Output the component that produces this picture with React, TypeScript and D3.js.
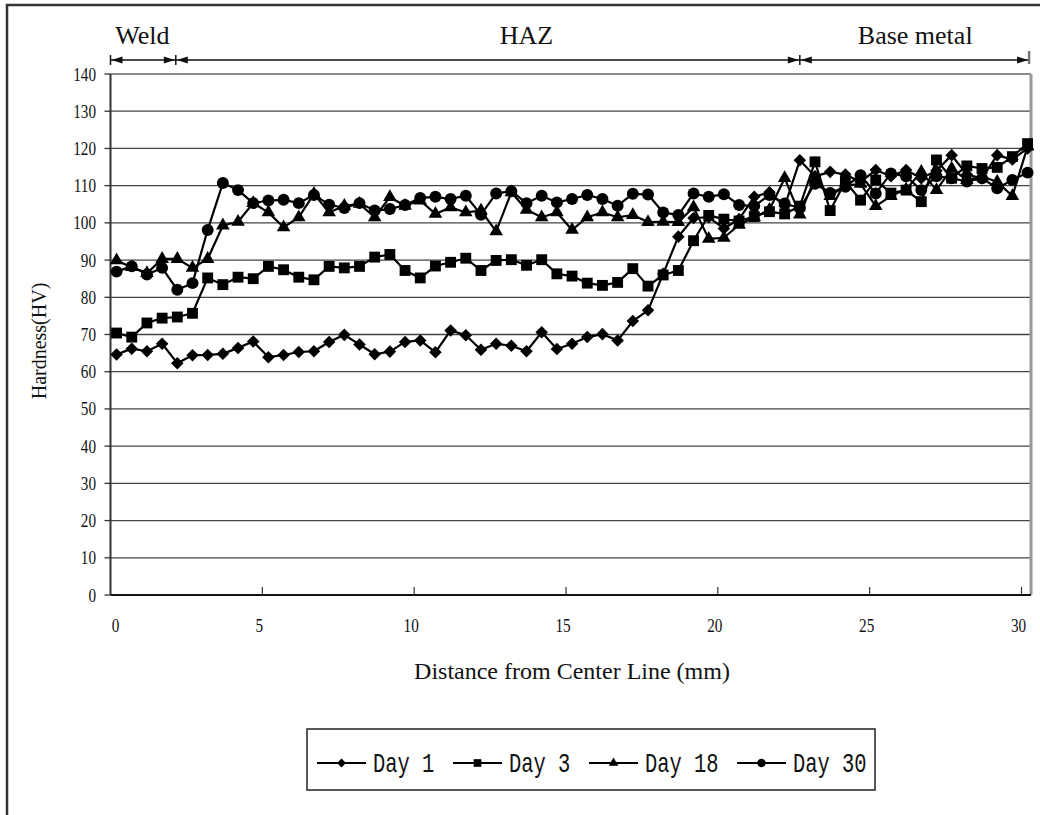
import React from 'react';
import * as d3 from 'd3';

// sample positions (mm) and hardness readings (HV)
const distances = [
  0.2, 0.7, 1.2, 1.7, 2.2, 2.7, 3.2, 3.7, 4.2, 4.7,
  5.2, 5.7, 6.2, 6.7, 7.2, 7.7, 8.2, 8.7, 9.2, 9.7,
  10.2, 10.7, 11.2, 11.7, 12.2, 12.7, 13.2, 13.7, 14.2, 14.7,
  15.2, 15.7, 16.2, 16.7, 17.2, 17.7, 18.2, 18.7, 19.2, 19.7,
  20.2, 20.7, 21.2, 21.7, 22.2, 22.7, 23.2, 23.7, 24.2, 24.7,
  25.2, 25.7, 26.2, 26.7, 27.2, 27.7, 28.2, 28.7, 29.2, 29.7,
  30.2,
];

const day1 = [
  64.6, 66.2, 65.5, 67.5, 62.3, 64.4, 64.5, 64.8, 66.4, 68.1,
  63.9, 64.5, 65.3, 65.5, 68.0, 69.9, 67.3, 64.7, 65.4, 68.0,
  68.4, 65.2, 71.1, 69.8, 65.9, 67.5, 67.0, 65.5, 70.6, 66.1,
  67.5, 69.3, 70.1, 68.4, 73.6, 76.5, 86.3, 96.3, 101.3, 101.5,
  98.5, 101.0, 107.0, 108.2, 104.5, 116.8, 112.5, 113.7, 113.0, 111.0,
  114.2, 112.5, 114.2, 112.0, 114.0, 118.2, 113.0, 112.0, 118.2, 117.0,
  120.0,
];

const day3 = [
  70.4, 69.3, 73.1, 74.4, 74.7, 75.7, 85.2, 83.4, 85.4, 85.0,
  88.3, 87.4, 85.4, 84.7, 88.3, 87.9, 88.3, 90.8, 91.5, 87.2,
  85.2, 88.4, 89.4, 90.5, 87.2, 89.9, 90.1, 88.6, 90.1, 86.3,
  85.7, 83.8, 83.2, 84.0, 87.7, 83.0, 86.0, 87.2, 95.2, 102.0,
  101.0, 100.5, 101.7, 103.0, 102.4, 104.5, 116.4, 103.3, 111.1, 106.1,
  111.5, 108.0, 108.8, 105.7, 116.9, 112.0, 115.3, 114.6, 114.9, 117.8,
  121.3,
];

const day18 = [
  89.9, 88.1, 86.5, 90.3, 90.3, 87.9, 90.3, 99.3, 100.3, 105.3,
  102.8, 98.8, 101.5, 107.8, 102.8, 104.6, 105.1, 101.5, 106.9, 104.6,
  106.0, 102.4, 104.2, 102.8, 103.3, 97.7, 108.2, 103.5, 101.5, 102.8,
  98.1, 101.5, 102.8, 101.5, 102.1, 100.2, 100.3, 100.2, 104.2, 95.7,
  96.0, 99.5, 101.5, 103.5, 112.0, 102.2, 112.0, 107.2, 110.0, 110.5,
  104.5, 107.2, 109.0, 113.7, 108.8, 114.6, 111.5, 112.5, 111.0, 107.2,
  120.5,
];

const day30 = [
  86.9, 88.3, 86.1, 87.9, 82.0, 83.8, 98.1, 110.7, 108.8, 105.3,
  106.0, 106.2, 105.3, 107.5, 104.9, 104.0, 105.3, 103.3, 103.7, 104.8,
  106.7, 107.0, 106.4, 107.3, 102.2, 107.9, 108.5, 105.3, 107.3, 105.5,
  106.4, 107.5, 106.4, 104.6, 107.8, 107.6, 102.8, 102.1, 107.9, 107.0,
  107.7, 104.8, 104.5, 107.5, 105.2, 104.0, 110.5, 108.0, 109.7, 112.8,
  107.9, 113.3, 112.5, 108.8, 112.5, 112.0, 111.1, 112.0, 109.3, 111.5,
  113.5,
];

const seriesNames = ['Day 1', 'Day 3', 'Day 18', 'Day 30'];
const seriesValues = [day1, day3, day18, day30];
const yTicks = [0, 10, 20, 30, 40, 50, 60, 70, 80, 90, 100, 110, 120, 130, 140];
const xTicks = [0, 5, 10, 15, 20, 25, 30];

// zones along the weld (mm)
const zoneNames = ['Weld', 'HAZ', 'Base metal'];
const zoneEdges = [0, 2.15, 22.7, 30.25];
const zoneLabelAt = [1.05, 13.7, 26.5];

const W = 1040;
const H = 815;
const serif = '"Liberation Serif", "Times New Roman", serif';
const mono = '"Liberation Mono", "DejaVu Sans Mono", monospace';

const symbols = [d3.symbolDiamond2, d3.symbolSquare, d3.symbolTriangle, d3.symbolCircle];
const symbolSizes = [100, 118, 80, 112];

export default function App() {
  const x = d3.scaleLinear().domain([0, 30]).range([110.5, 1021.5]);
  const y = d3.scaleLinear().domain([0, 140]).range([595, 74]);
  const plotRight = 1031;

  const line = d3.line<number>()
    .x((_, i) => x(distances[i]))
    .y(d => y(d));

  const arrowY = 60;
  const arrowHead = (tip: number, dir: number) => {
    const l = 11;
    const h = 3.5;
    return `M${tip},${arrowY}L${tip - dir * l},${arrowY - h}L${tip - dir * l},${arrowY + h}Z`;
  };

  const legendX = [317, 453, 589, 737];
  const legendY = 763;

  return (
    <svg width={W} height={H} style={{ position: 'absolute', left: 0, top: 0, background: '#fff' }}>
      <rect width={W} height={H} fill="#fff" />
      {/* outer chart border (partially outside the picture) */}
      <path d={`M7,${H}V5H${W}`} fill="none" stroke="#333" strokeWidth={2.5} />

      {/* zone annotations */}
      <g>
        <line x1={x(zoneEdges[0])} x2={x(zoneEdges[3])} y1={arrowY} y2={arrowY} stroke="#111" strokeWidth={1.4} />
        {zoneNames.map((name, i) => {
          const a = x(zoneEdges[i]);
          const b = x(zoneEdges[i + 1]);
          return (
            <g key={name}>
              <path d={arrowHead(a + 1, -1)} fill="#111" />
              <path d={arrowHead(b - 1, 1)} fill="#111" />
              <text x={x(zoneLabelAt[i])} y={44} textAnchor="middle" fontFamily={serif} fontSize={26} fill="#111">
                {name}
              </text>
            </g>
          );
        })}
        {zoneEdges.map((e, i) => (
          <line key={i} x1={x(e)} x2={x(e)} y1={i === 3 ? 51 : 55} y2={i === 3 ? 64 : 65}
            stroke={i === 3 ? '#777' : '#111'} strokeWidth={i === 3 ? 2.5 : 1.5} />
        ))}
      </g>

      {/* gridlines */}
      {yTicks.filter(t => t > 0 && t < 140).map(t => (
        <line key={t} x1={x(0)} x2={plotRight} y1={y(t)} y2={y(t)} stroke="#444" strokeWidth={1.3} />
      ))}
      {/* plot frame */}
      <line x1={x(0)} x2={plotRight} y1={y(140)} y2={y(140)} stroke="#666" strokeWidth={1.6} />
      <line x1={plotRight} x2={plotRight} y1={y(140)} y2={y(0)} stroke="#999" strokeWidth={3} />

      {/* y axis */}
      <line x1={x(0)} x2={x(0)} y1={y(140)} y2={y(0)} stroke="#333" strokeWidth={2} />
      {yTicks.map(t => (
        <g key={t}>
          <line x1={x(0) - 6} x2={x(0)} y1={y(t)} y2={y(t)} stroke="#333" strokeWidth={1.3} />
          <text transform={`translate(96,${y(t) + 6.5}) scale(0.8,1)`} textAnchor="end"
            fontFamily={serif} fontSize={19} fill="#111">{t}</text>
        </g>
      ))}

      {/* x axis */}
      <line x1={x(0)} x2={plotRight} y1={y(0)} y2={y(0)} stroke="#111" strokeWidth={2.2} />
      {xTicks.map(t => (
        <g key={t}>
          {t > 0 && <line x1={x(t)} x2={x(t)} y1={y(0) - 8} y2={y(0)} stroke="#333" strokeWidth={1.2} />}
          <text transform={`translate(${t === 0 ? x(t) + 5 : x(t) - 3},${632}) scale(0.8,1)`} textAnchor="middle"
            fontFamily={serif} fontSize={19} fill="#111">{t}</text>
        </g>
      ))}

      {/* series */}
      {seriesValues.map((vals, s) => (
        <g key={seriesNames[s]}>
          <path d={line(vals) || ''} fill="none" stroke="#000" strokeWidth={2.2} strokeLinejoin="round" />
          {vals.map((v, i) => (
            <path key={i} transform={`translate(${x(distances[i])},${y(v)})`}
              d={d3.symbol(symbols[s], symbolSizes[s])() || ''} fill="#000" />
          ))}
        </g>
      ))}

      {/* axis titles */}
      <text x={572} y={679} textAnchor="middle" fontFamily={serif} fontSize={24} fill="#111">
        Distance from Center Line (mm)
      </text>
      <text transform="translate(46,341) rotate(-90)" textAnchor="middle" fontFamily={serif} fontSize={20} fill="#111">
        Hardness(HV)
      </text>

      {/* legend */}
      <rect x={307} y={729} width={568} height={61} fill="#fff" stroke="#222" strokeWidth={1.5} />
      {seriesNames.map((name, s) => (
        <g key={name}>
          <line x1={legendX[s]} x2={legendX[s] + 49} y1={legendY} y2={legendY} stroke="#000" strokeWidth={2.2} />
          <path transform={`translate(${legendX[s] + 24.5},${legendY})`}
            d={d3.symbol(symbols[s], symbolSizes[s] * 0.5)() || ''} fill="#000" />
          <text transform={`translate(${legendX[s] + 56},${legendY + 9}) scale(0.73,1)`}
            fontFamily={mono} fontSize={28} fill="#111" style={{ whiteSpace: 'pre' }}>{name}</text>
        </g>
      ))}
    </svg>
  );
}
